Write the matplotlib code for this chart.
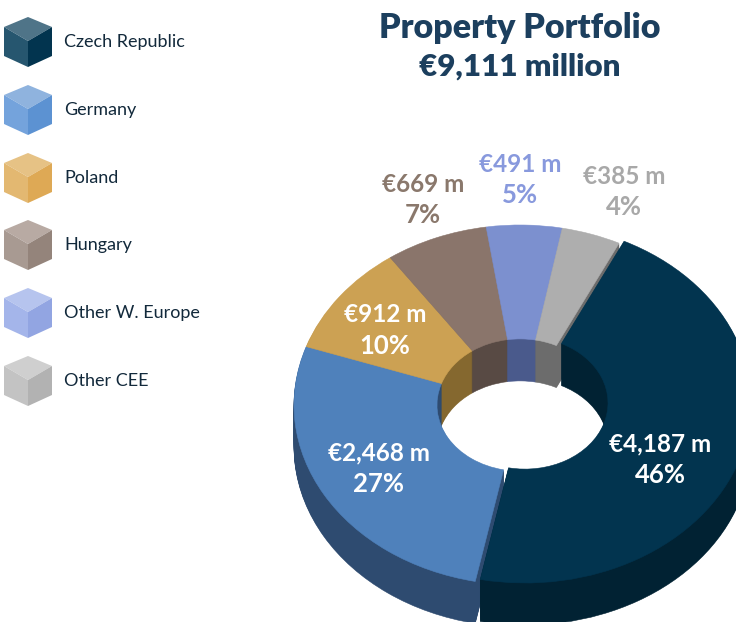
import numpy as np
import matplotlib
matplotlib.use("Agg")
import matplotlib.pyplot as plt
from matplotlib.patches import Wedge, Polygon

countries = ["Czech Republic", "Germany", "Poland", "Hungary", "Other W. Europe", "Other CEE"]
values_m = [4187, 2468, 912, 669, 491, 385]
value_labels = ["€4,187 m", "€2,468 m", "€912 m", "€669 m", "€491 m", "€385 m"]
pct_labels = ["46%", "27%", "10%", "7%", "5%", "4%"]
title_lines = ["Property Portfolio", "€9,111 million"]

top_colors = ["#02344f", "#4f81bb", "#cca153", "#8a756b", "#7c90cf", "#aeaeae"]
wall_colors = ["#012233", "#2e4b70", "#85682f", "#584a44", "#4a5a8c", "#6c6c6c"]
cube_top = ["#4f7488", "#8fb3de", "#e6c285", "#b8aaa3", "#b6c4ee", "#cfcfcf"]
cube_left = ["#26566f", "#74a3dc", "#e3b871", "#a89a92", "#a4b5ea", "#c3c3c3"]
cube_right = ["#02344f", "#5c92d2", "#dea955", "#94847b", "#92a5e2", "#b2b2b2"]
label_colors = ["white", "white", "white", "#8a786c", "#8899dd", "#a8a8a8"]
title_color = "#1c3f5e"
legend_color = "#12293b"

W, H = 736, 622
cx, cy, rx, ry = 520.0, 405.0, 226.0, 180.0
hole = 83.0 / 226.0
depth = 42
start = 64.0
dark_shift = (5.0, -2.0)   # the largest slice sits slightly apart

fig = plt.figure(figsize=(W / 100, H / 100), dpi=100, facecolor="white")
ax = fig.add_axes([0, 0, 1, 1])
ax.set_xlim(-cx / rx, (W - cx) / rx)
ax.set_ylim(-(H - cy) / ry, cy / ry)
ax.axis("off")

v = np.array(values_m, dtype=float)
sweep = v / v.sum() * 360.0
ends = start - np.cumsum(sweep)
begins = ends + sweep


def draw_layer(offset, colors):
    for i in range(len(v)):
        sx, sy = dark_shift if i == 0 else (0.0, 0.0)
        c = (sx / rx, -(sy + offset) / ry)
        ax.add_patch(Wedge(c, 1.0, ends[i], begins[i], width=1.0 - hole,
                           facecolor=colors[i], edgecolor=colors[i], linewidth=0.4))


for d in range(depth, 0, -1):
    draw_layer(d, wall_colors)
draw_layer(0, top_colors)

ov = fig.add_axes([0, 0, 1, 1])
ov.set_xlim(0, W)
ov.set_ylim(H, 0)
ov.axis("off")
ov.patch.set_alpha(0)

title_y = [28, 67]
title_sizes = [24.5, 22.5]
for s, y, fs in zip(title_lines, title_y, title_sizes):
    ov.text(520, y, s, ha="center", va="center", family="Lato", weight="heavy",
            fontsize=fs, color=title_color)

label_pos = [(660, 444), (379, 453), (385, 315), (423, 184), (520, 164), (624, 176)]
for (x, y), a, b, col in zip(label_pos, value_labels, pct_labels, label_colors):
    ov.text(x, y, a, ha="center", va="center", family="Lato", weight="bold", fontsize=17.5, color=col)
    ov.text(x, y + 31, b, ha="center", va="center", family="Lato", weight="bold", fontsize=18.5, color=col)

legend_y = [40, 108, 176, 243, 311, 379]
for name, y, t, l, r in zip(countries, legend_y, cube_top, cube_left, cube_right):
    top = y - 23
    ov.add_patch(Polygon([(28, top), (52, top + 10), (28, top + 24), (4, top + 10)], facecolor=t, edgecolor="none"))
    ov.add_patch(Polygon([(4, top + 10), (28, top + 24), (28, top + 50), (4, top + 39)], facecolor=l, edgecolor="none"))
    ov.add_patch(Polygon([(52, top + 10), (28, top + 24), (28, top + 50), (52, top + 39)], facecolor=r, edgecolor="none"))
    ov.text(64, y + 2, name, ha="left", va="center", family="Lato", fontsize=13, color=legend_color)

fig.savefig("out.png", dpi=100)
